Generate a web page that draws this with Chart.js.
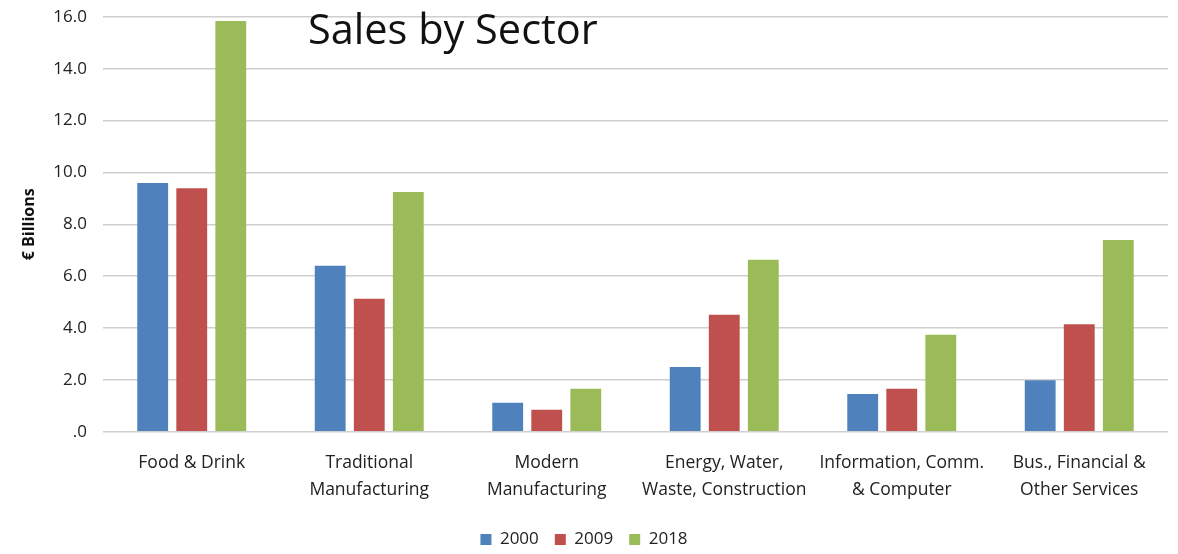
<!DOCTYPE html>
<html>
<head>
<meta charset="utf-8">
<script src="https://cdn.jsdelivr.net/npm/chart.js@4/dist/chart.umd.min.js"></script>
<style>
  html, body { margin: 0; padding: 0; background: #fff; }
  #wrap { width: 1178px; height: 554px; }
</style>
</head>
<body>
<div id="wrap"><canvas id="salesChart"></canvas></div>
<script>
// sectors on the x axis (multi-line labels)
var sectors = [
  ['Food & Drink'],
  ['Traditional', 'Manufacturing'],
  ['Modern', 'Manufacturing'],
  ['Energy, Water,', 'Waste, Construction'],
  ['Information, Comm.', '& Computer'],
  ['Bus., Financial &', 'Other Services']
];

var years = ['2000', '2009', '2018'];

// sales in € billions
var sales2000 = [9.59, 6.40, 1.12, 2.50, 1.46, 1.99];
var sales2009 = [9.39, 5.13, 0.85, 4.51, 1.66, 4.15];
var sales2018 = [15.84, 9.25, 1.66, 6.63, 3.74, 7.39];

var yTicks = [0, 2, 4, 6, 8, 10, 12, 14, 16];

var colors = ['#4F81BD', '#C0504D', '#9BBB59'];
var FONT = "'Open Sans', 'Liberation Sans', sans-serif";

// big title drawn over the plot area, like the original slide
var titlePlugin = {
  id: 'slideTitle',
  afterDraw: function(chart) {
    var ctx = chart.ctx;
    var area = chart.chartArea;
    ctx.save();
    ctx.font = '41.5px ' + FONT;
    ctx.fillStyle = '#111';
    ctx.textAlign = 'left';
    ctx.textBaseline = 'alphabetic';
    ctx.fillText('Sales by Sector', area.left + 205, 44);
    ctx.restore();
  }
};

var ctx = document.getElementById('salesChart').getContext('2d');
var chart = new Chart(ctx, {
  type: 'bar',
  data: {
    labels: sectors,
    datasets: [
      { label: years[0], data: sales2000, backgroundColor: colors[0] },
      { label: years[1], data: sales2009, backgroundColor: colors[1] },
      { label: years[2], data: sales2018, backgroundColor: colors[2] }
    ]
  },
  options: {
    responsive: true,
    maintainAspectRatio: false,
    animation: false,
    layout: { padding: { top: 16, right: 10, left: 0, bottom: -4 } },
    datasets: {
      bar: { categoryPercentage: 0.66, barPercentage: 0.79 }
    },
    plugins: {
      legend: {
        position: 'bottom',
        labels: {
          boxWidth: 11,
          boxHeight: 11,
          padding: 16,
          color: '#222',
          font: { family: FONT, size: 17 }
        }
      },
      tooltip: { enabled: false }
    },
    scales: {
      x: {
        grid: { display: false },
        border: { display: false },
        ticks: {
          color: '#222',
          padding: 10,
          maxRotation: 0,
          autoSkip: false,
          font: { family: FONT, size: 17.5, lineHeight: 1.55 }
        },
        afterFit: function(scale) { scale.height += 1; }
      },
      y: {
        min: 0,
        max: 16,
        afterBuildTicks: function(scale) {
          scale.ticks = yTicks.map(function(v) { return { value: v }; });
        },
        grid: { color: '#cfcfcf', lineWidth: 1.5, drawTicks: false },
        border: { display: false },
        ticks: {
          color: '#222',
          padding: 16,
          // single-line labels: a tiny line height keeps the top inset small
          font: { family: FONT, size: 17, lineHeight: 0.1 },
          callback: function(v) { return v === 0 ? '.0' : v.toFixed(1); }
        },
        title: {
          display: true,
          text: '€ Billions',
          color: '#111',
          font: { family: FONT, size: 16, weight: 'bold' },
          padding: { top: 20, bottom: 0 }
        },
        afterFit: function(scale) { scale.width = 103; }
      }
    }
  },
  plugins: [titlePlugin]
});
</script>
</body>
</html>
